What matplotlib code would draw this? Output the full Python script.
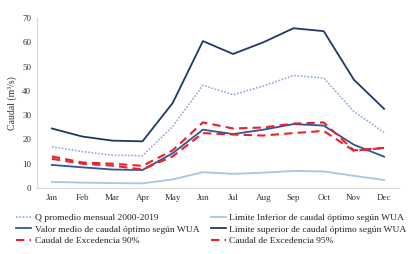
import matplotlib
matplotlib.use("Agg")
import matplotlib.pyplot as plt

months = ["Jan", "Feb", "Mar", "Apr", "May", "Jun", "Jul", "Aug", "Sep", "Oct", "Nov", "Dec"]
q_prom = [17.0, 15.0, 13.5, 13.3, 25.3, 42.3, 38.4, 42.0, 46.3, 45.3, 31.5, 22.9]
lim_inf = [2.5, 2.2, 2.0, 1.9, 3.5, 6.5, 5.8, 6.3, 7.0, 6.8, 5.0, 3.3]
valor_medio = [9.5, 8.5, 7.6, 7.4, 14.3, 24.0, 22.2, 24.0, 26.3, 25.7, 17.8, 12.9]
lim_sup = [24.5, 21.2, 19.5, 19.2, 35.0, 60.5, 55.2, 60.0, 65.8, 64.6, 44.6, 32.6]
exc90 = [13.0, 10.5, 10.0, 9.1, 15.5, 27.0, 24.5, 24.9, 26.5, 27.0, 15.5, 16.5]
exc95 = [12.0, 10.0, 9.2, 7.6, 13.0, 22.6, 22.0, 21.6, 22.6, 23.5, 15.3, 16.5]

plt.rcParams['font.family'] = ['Liberation Serif', 'DejaVu Serif']
fig = plt.figure(figsize=(4.09, 2.54), dpi=100)
ax = fig.add_axes([0.090, 0.260, 0.886, 0.669])
x = list(range(len(months)))

l1, = ax.plot(x, q_prom, color="#8faadc", lw=1.2, ls=(0, (1, 1)), label="Q promedio mensual 2000-2019")
l2, = ax.plot(x, lim_inf, color="#a9c4e8", lw=1.3, label="Limite Inferior de caudal óptimo según WUA")
l3, = ax.plot(x, valor_medio, color="#2f5597", lw=1.3, label="Valor medio de caudal óptimo según WUA")
l4, = ax.plot(x, lim_sup, color="#1f3864", lw=1.3, label="Limite superior de caudal óptimo según WUA")
l5, = ax.plot(x, exc90, color="#e8212a", lw=1.5, ls=(0, (4, 2.5)), label="Caudal de Excedencia 90%")
l6, = ax.plot(x, exc95, color="#e8212a", lw=1.5, ls=(0, (4, 2.5)), label="Caudal de Excedencia 95%")

ax.set_xlim(-0.5, 11.5)
ax.set_ylim(0, 70)
ax.set_yticks(range(0, 71, 10))
ax.set_xticks(x)
ax.set_xticklabels(months)
ax.tick_params(axis='both', labelsize=6.5, length=0, colors="#333333", pad=4)
for s in ["top", "right"]:
    ax.spines[s].set_visible(False)
for s in ["left", "bottom"]:
    ax.spines[s].set_color("#d9d9d9")
    ax.spines[s].set_linewidth(0.8)
ax.set_ylabel("Caudal (m³/s)", fontsize=7, color="#333333", labelpad=4)

kw = dict(loc="lower left", frameon=False, fontsize=6.8, handlelength=1.6,
          handletextpad=0.35, labelspacing=0.3, borderaxespad=0, borderpad=0)
for hs, x0 in (([l1, l3, l5], 0.040), ([l2, l4, l6], 0.515)):
    leg = fig.legend(handles=hs, labels=[h.get_label() for h in hs],
                     bbox_to_anchor=(x0, 0.035), **kw)
    for t in leg.get_texts():
        t.set_color("#222222")

fig.savefig("out.png", dpi=100)
